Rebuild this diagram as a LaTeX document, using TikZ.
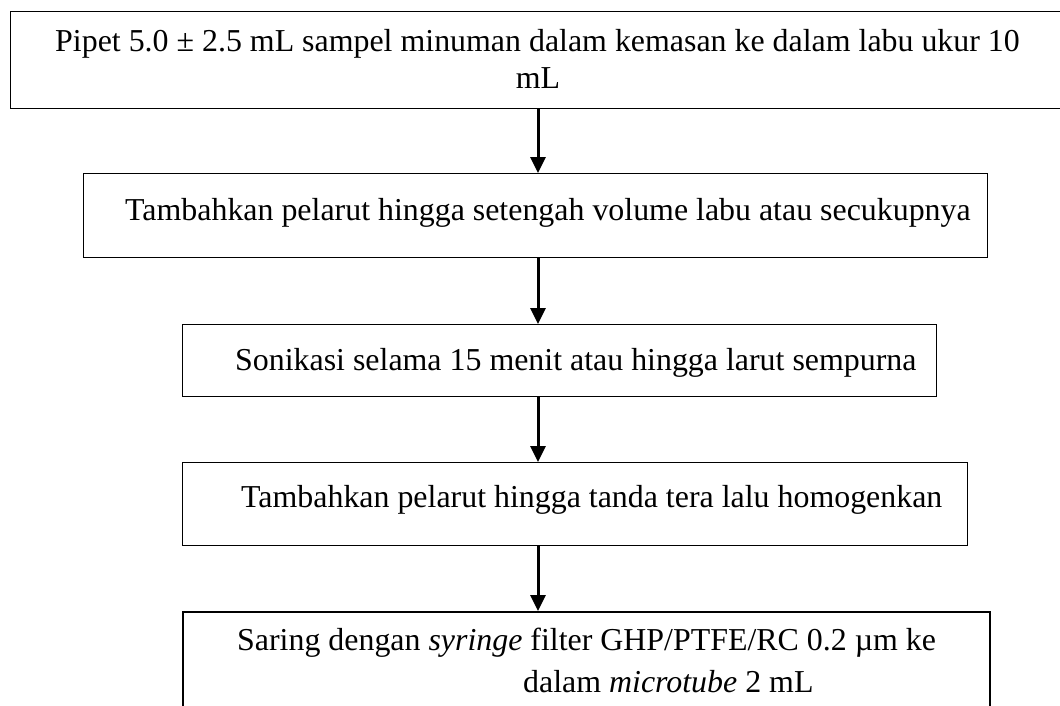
\documentclass[tikz,border=0pt]{standalone}
\usepackage{fontspec}
\setmainfont{Liberation Serif}
\usetikzlibrary{arrows.meta}
\begin{document}
\begin{tikzpicture}[x=1pt,y=-1pt,
  box/.style={draw=black, line width=1pt, rectangle, inner sep=0pt, anchor=north west},
  txt/.style={anchor=base west, inner sep=0pt, font=\fontsize{31.9}{38}\selectfont},
  arr/.style={line width=3pt, -{Triangle[width=15pt,length=16pt]}}]
\useasboundingbox (0,0) rectangle (1060,706);
\clip (0,0) rectangle (1060,706);
\coordinate (ax) at (538,0);
% boxes
\node[box, minimum width=1070pt, minimum height=97pt] (b1) at (10,11) {};
\node[box, minimum width=904pt, minimum height=84pt] (b2) at (83,173) {};
\node[box, minimum width=754pt, minimum height=72pt] (b3) at (182,324) {};
\node[box, minimum width=785pt, minimum height=83pt] (b4) at (182,462) {};
\node[box, line width=2pt, minimum width=807pt, minimum height=150pt] (b5) at (182,611) {};
% texts
\node[txt] (t1a) at (55,52) {Pipet 5.0 ± 2.5 mL sampel minuman dalam kemasan ke dalam labu ukur 10};
\node[txt, anchor=base] (t1b) at (538,89) {mL};
\node[txt] (t2) at (125,220) {Tambahkan pelarut hingga setengah volume labu atau secukupnya};
\node[txt] (t3) at (235,370) {Sonikasi selama 15 menit atau hingga larut sempurna};
\node[txt] (t4) at (241,507) {Tambahkan pelarut hingga tanda tera lalu homogenkan};
\node[txt] (t5a) at (237,650) {Saring dengan \textit{syringe} filter GHP/PTFE/RC 0.2 µm ke};
\node[txt] (t5b) at (523,692) {dalam \textit{microtube} 2 mL};
% arrows
\draw[arr] (b1.south -| ax) -- (b2.north -| ax);
\draw[arr] (b2.south -| ax) -- (b3.north -| ax);
\draw[arr] (b3.south -| ax) -- (b4.north -| ax);
\draw[arr] (b4.south -| ax) -- (b5.north -| ax);
\end{tikzpicture}
\end{document}
